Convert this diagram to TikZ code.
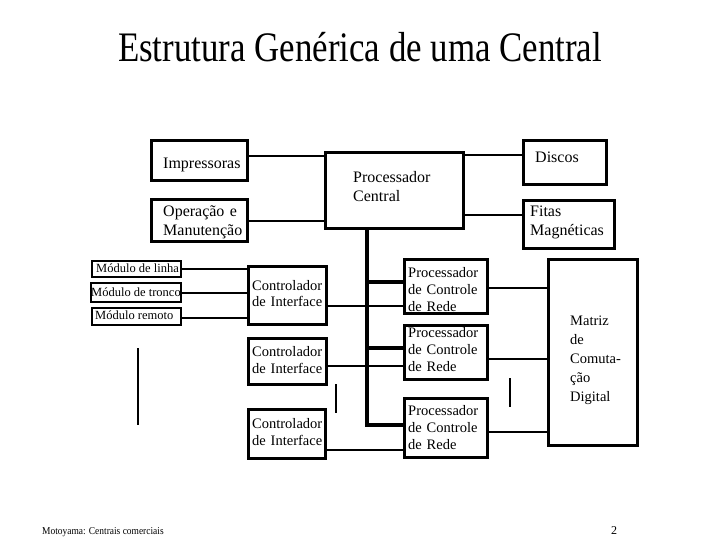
\documentclass[tikz,border=0pt]{standalone}
\usepackage{fontspec}
\setmainfont{Liberation Serif}
\begin{document}
\begin{tikzpicture}[x=1pt,y=-1pt,
  box/.style={draw,line width=2.8pt,inner sep=0pt,anchor=north west},
  conn/.style={line width=2.4pt},
  bus/.style={line width=4.2pt},
  stub/.style={line width=2.8pt},
  bigtxt/.style={anchor=base west,inner sep=0pt,align=left,text width=120pt,font=\fontsize{16}{19}\selectfont},
  smalltxt/.style={anchor=base west,inner sep=0pt,align=left,text width=100pt,font=\fontsize{14.5}{17}\selectfont},
  modtxt/.style={anchor=base west,inner sep=0pt,font=\fontsize{12.5}{14}\selectfont}]
\useasboundingbox (0,0) rectangle (720,540);
% title
\node[anchor=base,inner sep=0pt,font=\fontsize{42}{48}\selectfont] (title) at (360,62) {\scalebox{0.83}[1]{Estrutura Genérica de uma Central}};
% top boxes
\node[box,minimum width=96pt,minimum height=40pt] (imp) at (150,139) {};
\node[box,minimum width=96pt,minimum height=42pt] (op) at (150,198) {};
\node[box,minimum width=138pt,minimum height=76pt] (pc) at (324,151) {};
\node[box,minimum width=83pt,minimum height=44pt] (disc) at (522,139) {};
\node[box,minimum width=91pt,minimum height=48pt] (fitas) at (522,199) {};
\node[bigtxt] (timp) at (163,169) {Impressoras};
\node[bigtxt] (top) at (163,217) {Operação e\\Manutenção};
\node[bigtxt] (tpc) at (353,183) {Processador\\Central};
\node[bigtxt] (tdisc) at (535,163) {Discos};
\node[bigtxt] (tfitas) at (530,217) {Fitas\\Magnéticas};
\draw[conn] (imp.east |- 0,156) -- (pc.west |- 0,156);
\draw[conn] (op.east |- 0,221) -- (pc.west |- 0,221);
\draw[conn] (pc.east |- 0,155) -- (disc.west |- 0,155);
\draw[conn] (pc.east |- 0,215) -- (fitas.west |- 0,215);
% modules
\node[box,line width=2.2pt,minimum width=89pt,minimum height=16pt] (ml) at (91,260) {};
\node[box,line width=2.2pt,minimum width=90pt,minimum height=19pt] (mt) at (90,282) {};
\node[box,line width=2.2pt,minimum width=89pt,minimum height=17pt] (mr) at (91,307) {};
\node[modtxt] (tml) at (96,272) {Módulo de linha};
\node[modtxt] (tmt) at (91,296) {Módulo de tronco};
\node[modtxt] (tmr) at (95,319) {Módulo remoto};
% controllers
\node[box,minimum width=78pt,minimum height=58pt] (ci1) at (247,265) {};
\node[box,minimum width=78pt,minimum height=46pt] (ci2) at (247,337) {};
\node[box,minimum width=77pt,minimum height=49pt] (ci3) at (247,408) {};
\node[smalltxt] (tci1) at (252,290) {Controlador\\de Interface};
\node[smalltxt] (tci2) at (252,356) {Controlador\\de Interface};
\node[smalltxt] (tci3) at (252,428) {Controlador\\de Interface};
\draw[conn] (ml.east |- 0,269) -- (ci1.west |- 0,269);
\draw[conn] (mt.east |- 0,293) -- (ci1.west |- 0,293);
\draw[conn] (mr.east |- 0,318) -- (ci1.west |- 0,318);
% network control processors
\node[box,minimum width=83pt,minimum height=54pt] (pcr1) at (403,258) {};
\node[box,minimum width=83pt,minimum height=54pt] (pcr2) at (403,324) {};
\node[box,minimum width=83pt,minimum height=59pt] (pcr3) at (403,397) {};
\node[smalltxt] (tpcr1) at (408,277) {Processador\\de Controle\\de Rede};
\node[smalltxt] (tpcr2) at (408,337) {Processador\\de Controle\\de Rede};
\node[smalltxt] (tpcr3) at (408,415) {Processador\\de Controle\\de Rede};
% switching matrix
\node[box,minimum width=89pt,minimum height=186pt] (mat) at (547,258) {};
\node[smalltxt,font=\fontsize{14.5}{19}\selectfont] (tmat) at (570,325) {Matriz\\de\\Comuta-\\ção\\Digital};
% bus
\coordinate (b0) at (367,227);
\coordinate (b1) at (367,282);
\coordinate (b2) at (367,348);
\coordinate (b3) at (367,425);
\draw[bus] (pc.south -| b0) -- (b3) -- (b3 -| pcr3.west);
\draw[bus] (b1) -- (b1 -| pcr1.west);
\draw[bus] (b2) -- (b2 -| pcr2.west);
% CI to PCR
\draw[conn] (ci1.east |- 0,306) -- (pcr1.west |- 0,306);
\draw[conn] (ci2.east |- 0,366) -- (pcr2.west |- 0,366);
\draw[conn] (ci3.east |- 0,450) -- (pcr3.west |- 0,450);
% PCR to matrix
\draw[conn] (pcr1.east |- 0,288) -- (mat.west |- 0,288);
\draw[conn] (pcr2.east |- 0,359) -- (mat.west |- 0,359);
\draw[conn] (pcr3.east |- 0,432) -- (mat.west |- 0,432);
% ellipsis stubs
\coordinate (s1a) at (138,348); \coordinate (s1b) at (138,425);
\coordinate (s2a) at (336,384); \coordinate (s2b) at (336,413);
\coordinate (s3a) at (510,378); \coordinate (s3b) at (510,407);
\draw[stub] (s1a) -- (s1b);
\draw[stub] (s2a) -- (s2b);
\draw[stub] (s3a) -- (s3b);
% footer
\node[anchor=base west,inner sep=0pt,font=\fontsize{10.5}{12}\selectfont] (foot) at (42,534) {\scalebox{0.9}[1]{Motoyama: Centrais comerciais}};
\node[anchor=base west,inner sep=0pt,font=\fontsize{12}{14}\selectfont] (pg) at (611,534) {2};
\end{tikzpicture}
\end{document}
